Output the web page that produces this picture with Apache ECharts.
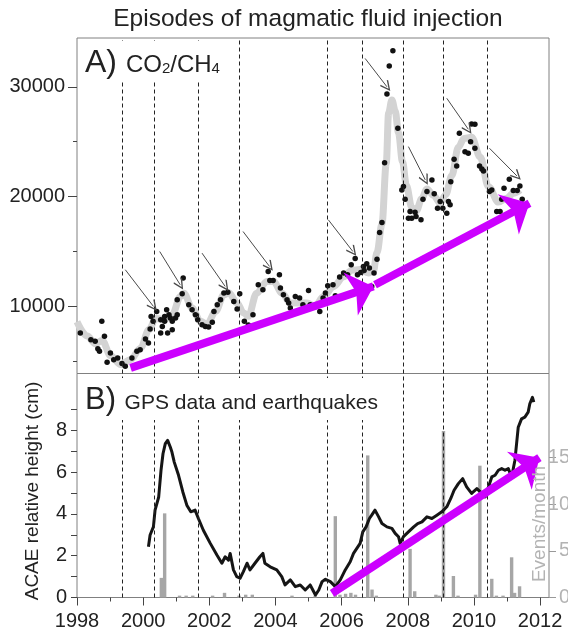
<!DOCTYPE html>
<html><head><meta charset="utf-8">
<script src="https://cdn.jsdelivr.net/npm/echarts@6/dist/echarts.min.js"></script>
<style>html,body{margin:0;padding:0;background:#fff}#c{width:568px;height:639px}</style>
</head><body><div id="c"></div>
<script>
// ---- data ----
const yearTicks = [1998, 2000, 2002, 2004, 2006, 2008, 2010, 2012];
const oddYearTicks = [1999, 2001, 2003, 2005, 2007, 2009, 2011];
const co2TickLabels = [10000, 20000, 30000];
const co2MinorTicks = [5000, 15000, 25000];
const heightTicks = [0, 1, 2, 3, 4, 5, 6, 7, 8, 9];
const heightTickLabels = [0, 2, 4, 6, 8];
const eventTicks = [0, 5, 10, 15];

// vertical dashed lines: episodes of magmatic fluid injection
const injectionEpisodes = [1999.36, 2000.35, 2001.66, 2002.91, 2005.56, 2006.61, 2007.87, 2009.06, 2010.41];

// CO2/CH4 samples [year, ratio]
const co2Samples = [
 [1998.10,7580],[1998.42,6970],[1998.55,6820],[1998.63,6150],[1998.68,5910],[1998.75,8640],[1998.83,7280],
 [1998.91,4910],[1999.01,5760],[1999.11,5150],[1999.23,5310],[1999.36,4790],[1999.46,4550],[1999.66,5310],
 [1999.81,5910],[1999.91,6060],[2000.07,7030],[2000.16,6670],[2000.21,7940],[2000.24,9090],[2000.30,8640],
 [2000.41,9545],[2000.53,8790],[2000.53,7580],[2000.58,8180],[2000.65,9090],[2000.65,8640],[2000.71,9700],
 [2000.74,7580],[2000.78,9245],[2000.82,8940],[2000.88,8640],[2000.88,7880],[2000.98,8940],[2001.03,9245],
 [2001.03,10610],[2001.18,11150],[2001.21,12580],[2001.38,10150],[2001.48,9700],[2001.58,9245],[2001.65,8790],
 [2001.78,8340],[2001.88,8180],[2001.98,8120],[2002.09,8550],[2002.14,9545],[2002.24,10150],[2002.34,10610],
 [2002.44,11220],[2002.56,11280],[2002.74,10450],[2002.84,9760],[2002.92,11150],[2003.06,8640],[2003.18,8300],
 [2003.32,9245],[2003.48,11970],[2003.62,11520],[2003.78,13180],[2003.83,12360],[2003.93,12360],[2004.12,12880],
 [2004.15,11670],[2004.24,11060],[2004.35,10610],[2004.40,10300],[2004.45,9850],[2004.60,10910],[2004.73,10760],
 [2004.83,10150],[2005.00,11450],[2005.05,10150],[2005.21,10000],[2005.34,9545],[2005.44,10760],[2005.51,11220],
 [2005.58,11880],[2005.74,11970],[2005.81,10970],[2005.94,12670],[2006.06,13040],[2006.18,12880],[2006.29,13790],
 [2006.41,14360],[2006.48,12880],[2006.58,13090],[2006.66,13640],[2006.68,13270],[2006.76,13880],[2006.84,13490],
 [2006.91,11820],[2006.98,13040],[2007.07,14300],[2007.15,16730],[2007.22,17640],[2007.30,23090],[2007.37,29340],
 [2007.44,31880],[2007.55,33270],[2007.70,26220],[2007.82,20610],[2007.87,20910],[2007.92,19760],[2008.02,18030],
 [2008.07,18640],[2008.12,18030],[2008.22,18580],[2008.25,18180],[2008.40,17880],[2008.46,19760],[2008.58,20460],
 [2008.73,21520],[2008.80,20250],[2008.90,18940],[2008.98,19550],[2009.06,18940],[2009.18,18490],[2009.23,19550],
 [2009.28,19250],[2009.30,21360],[2009.40,23400],[2009.48,22790],[2009.56,25760],[2009.73,24090],[2009.83,23940],
 [2009.90,25000],[2009.93,26610],[2010.03,26580],[2010.03,24400],[2010.17,22790],[2010.24,22520],[2010.29,22340],
 [2010.47,20460],[2010.54,20610],[2010.69,18640],[2010.79,18640],[2010.84,19760],[2010.91,20760],[2011.07,21580],
 [2011.19,20550],[2011.31,20550],[2011.39,20970],[2011.46,19760]
];

// smoothed CO2/CH4 trend (grey band)
const co2Trend = [
 [1998.00,8600],[1998.31,7300],[1998.56,6600],[1998.76,6900],[1999.02,5500],[1999.32,4700],[1999.62,5150],
 [1999.92,6200],[2000.18,7900],[2000.38,8900],[2000.63,8800],[2000.88,9250],[2001.13,10900],[2001.23,11200],
 [2001.48,9850],[2001.73,8650],[2001.93,8350],[2002.19,9550],[2002.44,11050],[2002.59,11250],[2002.84,10300],
 [2003.04,9400],[2003.18,9100],[2003.43,11200],[2003.74,12270],[2003.94,12270],[2004.20,11200],[2004.45,10300],
 [2004.70,10300],[2004.95,10300],[2005.20,10000],[2005.45,10900],[2005.76,11800],[2006.06,12700],[2006.31,13300],
 [2006.56,13350],[2006.81,13050],[2006.96,13200],[2007.07,14900],[2007.22,17500],[2007.35,23000],[2007.42,27600],
 [2007.52,28800],[2007.62,27800],[2007.72,25800],[2007.84,23200],[2007.96,21000],[2008.12,19000],[2008.26,18700],
 [2008.42,19800],[2008.58,20700],[2008.78,20100],[2008.98,19400],[2009.15,20200],[2009.33,21900],[2009.53,24500],
 [2009.70,25300],[2009.93,25400],[2010.19,23600],[2010.44,20900],[2010.74,19500],[2010.99,19850],[2011.19,20300],
 [2011.40,20600]
];

// thin arrows pointing at CO2/CH4 peaks [[startYear,startVal],[endYear,endVal]]
const peakArrows = [
 [[1999.46,13340],[2000.31,10000]],
 [[2000.50,15000],[2001.12,11970]],
 [[2001.78,14850],[2002.48,11820]],
 [[2003.02,16820],[2003.82,13640]],
 [[2005.60,17880],[2006.34,15000]],
 [[2006.71,32580],[2007.37,30000]],
 [[2008.02,24550],[2008.53,21520]],
 [[2009.18,28950],[2009.83,26130]],
 [[2010.47,24400],[2011.30,21880]]
];

// purple trend arrows
const trendArrowsA = [
 [[1999.62,4400],[2006.96,11820]],
 [[2007.01,11970],[2011.68,19400]]
];
const trendArrowsB = [
 [[2005.71,0.2],[2011.98,6.69]]
];

// ACAE GPS relative height (cm)
const gpsHeight = [
 [2000.16,2.43],[2000.21,2.99],[2000.31,3.38],[2000.36,4.18],[2000.47,4.81],[2000.54,6.09],[2000.60,6.88],
 [2000.67,7.36],[2000.74,7.52],[2000.82,7.20],[2000.87,6.96],[2000.94,6.48],[2001.07,5.85],[2001.20,5.05],
 [2001.32,4.42],[2001.44,4.10],[2001.57,4.18],[2001.67,3.78],[2001.82,3.22],[2002.03,2.59],[2002.23,2.03],
 [2002.38,1.64],[2002.48,1.95],[2002.58,1.79],[2002.63,2.11],[2002.73,1.32],[2002.83,1.00],[2002.93,0.92],
 [2003.03,1.24],[2003.14,1.64],[2003.23,1.32],[2003.38,1.64],[2003.53,1.95],[2003.62,2.11],[2003.68,1.64],
 [2003.84,1.47],[2004.04,1.32],[2004.19,1.00],[2004.29,0.60],[2004.45,0.84],[2004.60,0.52],[2004.75,0.60],
 [2004.90,0.36],[2005.05,0.60],[2005.21,0.12],[2005.31,0.36],[2005.41,0.76],[2005.51,0.87],[2005.66,0.76],
 [2005.81,0.52],[2005.96,0.84],[2006.11,1.32],[2006.26,1.71],[2006.36,2.11],[2006.46,2.35],[2006.56,2.59],
 [2006.64,3.14],[2006.74,3.38],[2006.84,3.78],[2006.91,3.94],[2007.01,4.18],[2007.12,3.86],[2007.22,3.54],
 [2007.37,3.38],[2007.52,3.31],[2007.62,3.07],[2007.72,2.91],[2007.77,2.59],[2007.87,2.91],[2008.02,3.14],
 [2008.18,3.38],[2008.30,3.54],[2008.43,3.62],[2008.58,3.86],[2008.73,3.78],[2008.88,3.94],[2009.03,4.10],
 [2009.18,4.34],[2009.30,4.74],[2009.40,5.13],[2009.53,5.45],[2009.66,5.69],[2009.78,5.29],[2009.93,4.98],
 [2010.09,5.21],[2010.24,4.98],[2010.34,4.81],[2010.44,5.29],[2010.54,5.77],[2010.64,5.85],[2010.74,6.09],
 [2010.84,6.17],[2010.94,6.09],[2011.04,6.17],[2011.14,5.77],[2011.24,6.57],[2011.34,8.15],[2011.44,8.55],
 [2011.54,8.63],[2011.64,8.87],[2011.69,9.27],[2011.77,9.58],[2011.81,9.35]
];

// earthquakes, events per month [year, count]
const quakeMonths = [
 [2000.55,2.1],[2000.65,9.0],[2001.10,0.2],[2001.30,0.2],[2001.50,0.2],[2002.10,0.2],[2002.46,0.5],
 [2002.90,0.2],[2003.10,0.3],[2003.30,0.3],[2004.50,0.2],[2005.20,0.2],[2005.81,8.7],[2005.95,0.3],
 [2006.12,0.4],[2006.28,0.5],[2006.42,0.3],[2006.79,15.2],[2006.92,0.85],[2007.05,0.2],[2008.07,5.2],
 [2008.21,0.67],[2008.85,0.3],[2008.95,0.2],[2009.08,17.8],[2009.38,2.3],[2009.52,0.2],[2010.05,0.3],
 [2010.18,14.1],[2010.54,2.0],[2010.68,0.2],[2010.88,0.2],[2011.14,4.3],[2011.23,0.5],[2011.38,1.2]
];

// ---- chart ----
const PURPLE = '#cc00ff';
const chevron = 'path://M5,0 L10,9 L9,10 L5,2.6 L1,10 L0,9 Z';
const X_MIN = 1998, X_MAX = 2012.27;
const plain = v => String(v);

const chart = echarts.init(document.getElementById('c'), null, {renderer: 'canvas'});
const axisGray = '#808080';

const option = {
  animation: false,
  backgroundColor: '#fff',
  grid: [
    {left: 77, top: 38, width: 472, height: 335.5, show: true, borderColor: axisGray, borderWidth: 1, backgroundColor: 'transparent', containLabel: false, outerBoundsMode: 'none'},
    {left: 77, top: 373.5, width: 472, height: 224, show: true, borderColor: axisGray, borderWidth: 1, backgroundColor: 'transparent', containLabel: false, outerBoundsMode: 'none'}
  ],
  xAxis: [
    {gridIndex: 0, type: 'value', min: X_MIN, max: X_MAX, axisLine: {show: false}, axisTick: {show: false}, axisLabel: {show: false}, splitLine: {show: false}},
    {gridIndex: 1, type: 'value', position: 'bottom', min: X_MIN, max: X_MAX,
     axisLine: {show: true, onZero: false, lineStyle: {color: axisGray, width: 1}},
     axisTick: {show: true, customValues: yearTicks, length: 8, lineStyle: {color: '#444'}},
     axisLabel: {show: true, customValues: yearTicks, formatter: plain, fontSize: 20, color: '#222', margin: 14, fontFamily: 'Liberation Sans'},
     splitLine: {show: false}},
    {gridIndex: 1, type: 'value', position: 'bottom', min: X_MIN, max: X_MAX,
     axisLine: {show: false, onZero: false}, axisTick: {show: true, customValues: oddYearTicks, length: 4, lineStyle: {color: '#444'}},
     axisLabel: {show: false}, splitLine: {show: false}}
  ],
  yAxis: [
    {gridIndex: 0, type: 'value', min: 3890, max: 34440, position: 'left',
     axisLine: {show: false},
     axisTick: {show: true, customValues: co2TickLabels, length: 9, lineStyle: {color: '#444'}},
     axisLabel: {show: true, customValues: co2TickLabels, formatter: plain, fontSize: 20, color: '#222', margin: 12, fontFamily: 'Liberation Sans'},
     splitLine: {show: false}},
    {gridIndex: 0, type: 'value', min: 3890, max: 34440, position: 'left',
     axisLine: {show: false},
     axisTick: {show: true, customValues: co2MinorTicks, length: 4, lineStyle: {color: '#444'}},
     axisLabel: {show: false}, splitLine: {show: false}},
    {gridIndex: 1, type: 'value', min: 0, max: 10.72, position: 'left',
     axisLine: {show: false},
     axisTick: {show: true, customValues: heightTicks, length: 6, lineStyle: {color: '#444'}},
     axisLabel: {show: true, customValues: heightTickLabels, formatter: plain, fontSize: 20, color: '#222', margin: 10, fontFamily: 'Liberation Sans'},
     splitLine: {show: false}},
    {gridIndex: 1, type: 'value', min: 0, max: 23.96, position: 'right',
     axisLine: {show: false},
     axisTick: {show: true, customValues: eventTicks, length: 7, lineStyle: {color: '#999'}},
     axisLabel: {show: true, customValues: eventTicks, formatter: plain, fontSize: 20, color: '#b3b3b3', margin: 21, align: 'right', fontFamily: 'Liberation Sans'},
     splitLine: {show: false}}
  ],
  series: [
    {
      name: 'trend', type: 'line', xAxisIndex: 0, yAxisIndex: 0, data: co2Trend,
      smooth: 0.35, smoothMonotone: 'x', showSymbol: false, symbol: 'none',
      lineStyle: {color: '#d3d3d3', width: 7}, z: 1, silent: true,
      markLine: {
        silent: true, symbol: ['none', 'none'], label: {show: false},
        lineStyle: {color: '#222', width: 1, type: [4, 3]},
        data: injectionEpisodes.map(v => ({xAxis: v}))
      }
    },
    {
      name: 'CO2/CH4', type: 'scatter', xAxisIndex: 0, yAxisIndex: 0, data: co2Samples,
      symbolSize: 5.5, itemStyle: {color: '#111', opacity: 1}, z: 3, silent: true
    },
    {
      name: 'peakArrows', type: 'line', xAxisIndex: 0, yAxisIndex: 0, data: [], z: 4,
      markLine: {
        silent: true, symbol: ['none', chevron], symbolSize: [10, 11], label: {show: false},
        lineStyle: {color: '#4a4a4a', width: 1, type: 'solid'},
        data: peakArrows.map(a => [{coord: a[0]}, {coord: a[1]}])
      }
    },
    {
      name: 'trendA', type: 'line', xAxisIndex: 0, yAxisIndex: 0, data: [], z: 5,
      markLine: {
        silent: true, symbol: ['none', 'arrow'], symbolSize: [34, 24], label: {show: false},
        lineStyle: {color: PURPLE, width: 8, type: 'solid', cap: 'butt'},
        itemStyle: {color: PURPLE},
        data: trendArrowsA.map(a => [{coord: a[0]}, {coord: a[1]}])
      }
    },
    {
      name: 'events', type: 'custom', xAxisIndex: 1, yAxisIndex: 3, data: quakeMonths,
      encode: {x: 0, y: 1}, z: 1, silent: true,
      renderItem: function (params, api) {
        const base = api.coord([api.value(0), 0]);
        const top = api.coord([api.value(0), api.value(1)]);
        return {type: 'rect', shape: {x: base[0] - 1.7, y: top[1], width: 3.4, height: base[1] - top[1]}, style: {fill: '#a6a6a6'}};
      }
    },
    {
      name: 'GPS', type: 'line', xAxisIndex: 1, yAxisIndex: 2, data: gpsHeight,
      showSymbol: false, symbol: 'none', lineStyle: {color: '#151515', width: 3, join: 'round'}, z: 3, silent: true,
      markLine: {
        silent: true, symbol: ['none', 'none'], label: {show: false},
        lineStyle: {color: '#222', width: 1, type: [4, 3]},
        data: injectionEpisodes.map(v => ({xAxis: v}))
      }
    },
    {
      name: 'trendB', type: 'line', xAxisIndex: 1, yAxisIndex: 2, data: [], z: 5,
      markLine: {
        silent: true, symbol: ['none', 'arrow'], symbolSize: [34, 24], label: {show: false},
        lineStyle: {color: PURPLE, width: 8, type: 'solid', cap: 'butt'},
        itemStyle: {color: PURPLE},
        data: trendArrowsB.map(a => [{coord: a[0]}, {coord: a[1]}])
      }
    }
  ],
  graphic: [
    {type: 'text', x: 308, y: 19, z: 100, style: {text: 'Episodes of magmatic fluid injection', font: '24.5px "Liberation Sans"', fill: '#222', align: 'center', verticalAlign: 'middle'}},
    {type: 'text', x: 80, y: 41, z: 100, style: {
      text: '{a|A) }{b|CO}{s|2}{b|/CH}{s|4}', backgroundColor: '#fff', padding: [2, 6, 2, 5],
      rich: {
        a: {fontSize: 32, fontFamily: 'Liberation Sans', fill: '#222', lineHeight: 36, verticalAlign: 'bottom'},
        b: {fontSize: 24, fontFamily: 'Liberation Sans', fill: '#222', lineHeight: 36, verticalAlign: 'bottom', padding: [0, 0, 2, 0]},
        s: {fontSize: 15, fontFamily: 'Liberation Sans', fill: '#222', lineHeight: 36, verticalAlign: 'bottom', padding: [0, 0, 3, 0]}
      }}},
    {type: 'text', x: 80, y: 378, z: 100, style: {
      text: '{a|B) }{b|GPS data and earthquakes}', backgroundColor: '#fff', padding: [2, 5, 4, 5],
      rich: {
        a: {fontSize: 31, fontFamily: 'Liberation Sans', fill: '#222', lineHeight: 36, verticalAlign: 'bottom'},
        b: {fontSize: 21, fontFamily: 'Liberation Sans', fill: '#222', lineHeight: 36, verticalAlign: 'bottom', padding: [0, 0, 2, 0]}
      }}},
    {type: 'text', x: 33, y: 491, rotation: Math.PI / 2, z: 100, style: {text: 'ACAE relative height (cm)', font: '19px "Liberation Sans"', fill: '#222', align: 'center', verticalAlign: 'middle'}},
    {type: 'text', x: 540, y: 524, rotation: Math.PI / 2, z: 100, style: {text: 'Events/month', font: '19px "Liberation Sans"', fill: '#b3b3b3', align: 'center', verticalAlign: 'middle'}}
  ]
};
chart.setOption(option);
</script>
</body></html>
